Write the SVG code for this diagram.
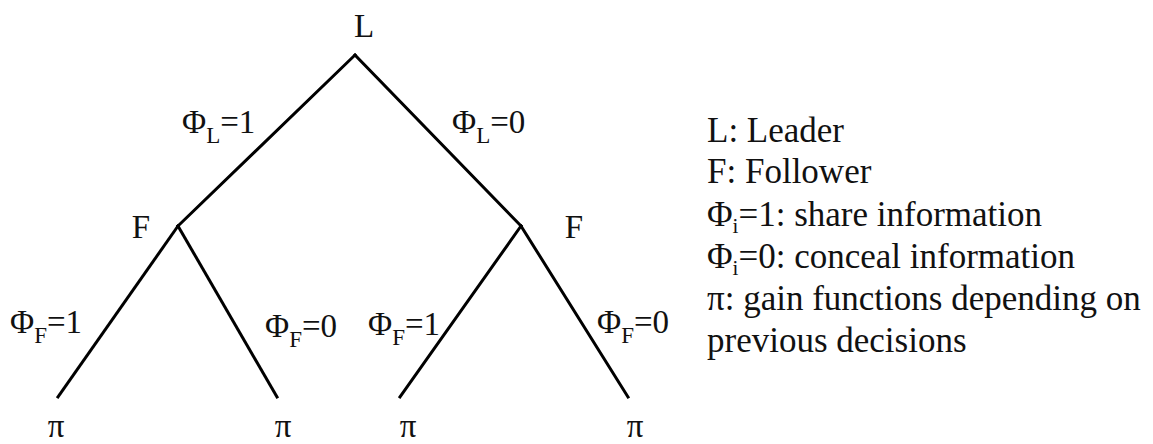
<svg xmlns="http://www.w3.org/2000/svg" width="1153" height="444" viewBox="0 0 1153 444">
<style>
text{font-family:'Liberation Serif','DejaVu Serif',serif;fill:#111}
.t{font-size:33px}
.lg{font-size:35px}
.sub{font-size:23px}
.si{font-size:21px}
.e{stroke:#000;stroke-width:3;fill:none;stroke-linecap:square}
</style>
<rect width="1153" height="444" fill="#fff"/>
<g id="connectors">
<path class="e" d="M355 55 L178 226"/>
<path class="e" d="M355 55 L521 226"/>
<path class="e" d="M178 226 L58 397"/>
<path class="e" d="M178 226 L277 397"/>
<path class="e" d="M521 226 L400 397"/>
<path class="e" d="M521 226 L628 397"/>
<text class="t" x="182" y="133">Φ<tspan class="sub" dy="10">L</tspan><tspan dy="-10">=1</tspan></text>
<text class="t" x="452" y="133">Φ<tspan class="sub" dy="10">L</tspan><tspan dy="-10">=0</tspan></text>
<text class="t" x="10" y="333">Φ<tspan class="sub" dy="10">F</tspan><tspan dy="-10">=1</tspan></text>
<text class="t" x="265" y="337">Φ<tspan class="sub" dy="10">F</tspan><tspan dy="-10">=0</tspan></text>
<text class="t" x="368" y="335">Φ<tspan class="sub" dy="10">F</tspan><tspan dy="-10">=1</tspan></text>
<text class="t" x="597" y="333">Φ<tspan class="sub" dy="10">F</tspan><tspan dy="-10">=0</tspan></text>
</g>
<g id="L"><text class="t" x="364" y="37" text-anchor="middle">L</text></g>
<g id="F1"><text class="t" x="141" y="238" text-anchor="middle">F</text></g>
<g id="F2"><text class="t" x="574" y="238" text-anchor="middle">F</text></g>
<g id="p1"><text class="t" x="56" y="437" text-anchor="middle">π</text></g>
<g id="p2"><text class="t" x="283" y="437" text-anchor="middle">π</text></g>
<g id="p3"><text class="t" x="408" y="437" text-anchor="middle">π</text></g>
<g id="p4"><text class="t" x="635" y="437" text-anchor="middle">π</text></g>
<g id="legend">
<text class="lg" x="707" y="142">L: Leader</text>
<text class="lg" x="707" y="183">F: Follower</text>
<text class="lg" x="707" y="226">Φ<tspan class="si" dy="7">i</tspan><tspan dy="-7">=1: share information</tspan></text>
<text class="lg" x="707" y="268">Φ<tspan class="si" dy="7">i</tspan><tspan dy="-7">=0: conceal information</tspan></text>
<text class="lg" x="707" y="310">π: gain functions depending on</text>
<text class="lg" x="707" y="352">previous decisions</text>
</g>
</svg>
